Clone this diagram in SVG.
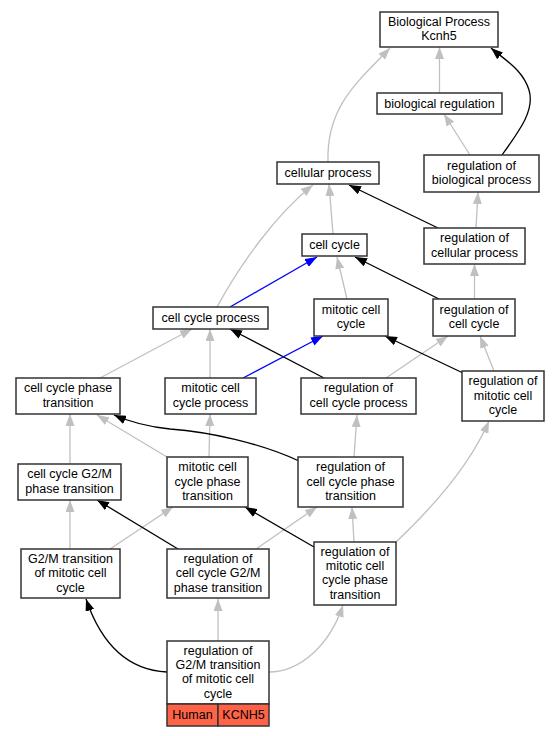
<svg xmlns="http://www.w3.org/2000/svg" width="560" height="736" viewBox="0 0 560 736">
<style>
.n rect{fill:#fff;stroke:#333;stroke-width:1.5}
text{font-family:"Liberation Sans",Arial,sans-serif;font-size:12.5px;fill:#000;text-anchor:middle}
.e path{fill:none;stroke-width:1.3}
.g{stroke:#c0c0c0;marker-end:url(#ag)}
.k{stroke:#000;marker-end:url(#ak)}
.b{stroke:#0000ff;marker-end:url(#ab)}
.n rect.red{fill:#ff6347}
</style>
<defs>
<marker id="ag" viewBox="0 0 12 9" refX="12" refY="4.5" markerWidth="12" markerHeight="9" markerUnits="userSpaceOnUse" orient="auto"><path d="M0,0 L12,4.5 L0,9 z" fill="#c0c0c0"/></marker>
<marker id="ak" viewBox="0 0 12 9" refX="12" refY="4.5" markerWidth="12" markerHeight="9" markerUnits="userSpaceOnUse" orient="auto"><path d="M0,0 L12,4.5 L0,9 z" fill="#000"/></marker>
<marker id="ab" viewBox="0 0 12 9" refX="12" refY="4.5" markerWidth="12" markerHeight="9" markerUnits="userSpaceOnUse" orient="auto"><path d="M0,0 L12,4.5 L0,9 z" fill="#0000ff"/></marker>
</defs>
<rect width="560" height="736" fill="#fff"/>
<g id="edges" class="e">
<path class="g" d="M439.5,93 L439.5,47"/>
<path class="g" d="M328,162 C326,105 360,80 390,48"/>
<path class="g" d="M470,155 L444,114"/>
<path class="g" d="M476,228 L478,192"/>
<path class="g" d="M333,234 L329,184"/>
<path class="g" d="M217,307 C240,265 275,215 313,185"/>
<path class="g" d="M347,299 L337,257"/>
<path class="g" d="M474.5,299 L474.5,264"/>
<path class="g" d="M100,378 L192,329"/>
<path class="g" d="M210,378 L210,329"/>
<path class="g" d="M386,378 L448,336"/>
<path class="g" d="M494,371 L480,336"/>
<path class="g" d="M354,457 L357,415"/>
<path class="g" d="M70,464 L70,414"/>
<path class="g" d="M167,457 L97,415"/>
<path class="g" d="M209,457 L210,414"/>
<path class="g" d="M70,549 L70,500"/>
<path class="g" d="M110,549 L173,507"/>
<path class="g" d="M256,549 L317,507"/>
<path class="g" d="M354,542 L352,507"/>
<path class="g" d="M395,543 C430,510 470,465 489,421"/>
<path class="g" d="M218,641 L218,599"/>
<path class="g" d="M269,672 C300,672 330,645 343,605"/>
<path class="k" d="M502,155 C520,130 535,110 529,90 C523,70 505,60 491,48"/>
<path class="k" d="M438,228 L349,185"/>
<path class="k" d="M439,299 L355,257"/>
<path class="k" d="M324,378 L230,329"/>
<path class="k" d="M463,373 L385,336"/>
<path class="k" d="M299,461 C260,443 210,432 170,429 C150,427 130,422 114,415"/>
<path class="k" d="M178,549 L97,500"/>
<path class="k" d="M314,547 L245,507"/>
<path class="k" d="M167,672 C125,670 100,640 86,599"/>
<path class="b" d="M230,307 L317,257"/>
<path class="b" d="M243,378 L323,336"/>
</g>
<g id="n1" class="n"><rect x="380" y="12" width="118" height="35"/><text x="439" y="25.9">Biological Process<tspan x="439" dy="14.4">Kcnh5</tspan></text></g>
<g id="n2" class="n"><rect x="377" y="93" width="125" height="21"/><text x="439.5" y="107.5">biological regulation</text></g>
<g id="n3" class="n"><rect x="277" y="162" width="102" height="22"/><text x="328" y="177">cellular process</text></g>
<g id="n4" class="n"><rect x="424" y="155" width="115" height="37"/><text x="481.5" y="169.9">regulation of<tspan x="481.5" dy="14.4">biological process</tspan></text></g>
<g id="n5" class="n"><rect x="302" y="234" width="65" height="22"/><text x="334.5" y="249">cell cycle</text></g>
<g id="n6" class="n"><rect x="424" y="228" width="101" height="36"/><text x="474.5" y="242.4">regulation of<tspan x="474.5" dy="14.4">cellular process</tspan></text></g>
<g id="n7" class="n"><rect x="153" y="307" width="115" height="22"/><text x="210.5" y="322">cell cycle process</text></g>
<g id="n8" class="n"><rect x="314" y="299" width="74" height="37"/><text x="351" y="313.9">mitotic cell<tspan x="351" dy="14.4">cycle</tspan></text></g>
<g id="n9" class="n"><rect x="433" y="299" width="82" height="37"/><text x="474" y="313.9">regulation of<tspan x="474" dy="14.4">cell cycle</tspan></text></g>
<g id="n10" class="n"><rect x="16" y="378" width="104" height="36"/><text x="68" y="392.4">cell cycle phase<tspan x="68" dy="14.4">transition</tspan></text></g>
<g id="n11" class="n"><rect x="165" y="378" width="91" height="36"/><text x="210.5" y="392.4">mitotic cell<tspan x="210.5" dy="14.4">cycle process</tspan></text></g>
<g id="n12" class="n"><rect x="301" y="378" width="115" height="36"/><text x="358.5" y="392.4">regulation of<tspan x="358.5" dy="14.4">cell cycle process</tspan></text></g>
<g id="n13" class="n"><rect x="462" y="371" width="82" height="50"/><text x="503" y="385.2">regulation of<tspan x="503" dy="14.4">mitotic cell</tspan><tspan x="503" dy="14.4">cycle</tspan></text></g>
<g id="n14" class="n"><rect x="18" y="464" width="103" height="36"/><text x="69.5" y="478.4">cell cycle G2/M<tspan x="69.5" dy="14.4">phase transition</tspan></text></g>
<g id="n15" class="n"><rect x="167" y="457" width="81" height="50"/><text x="207.5" y="471.2">mitotic cell<tspan x="207.5" dy="14.4">cycle phase</tspan><tspan x="207.5" dy="14.4">transition</tspan></text></g>
<g id="n16" class="n"><rect x="298" y="457" width="105" height="50"/><text x="350.5" y="471.2">regulation of<tspan x="350.5" dy="14.4">cell cycle phase</tspan><tspan x="350.5" dy="14.4">transition</tspan></text></g>
<g id="n17" class="n"><rect x="21" y="549" width="99" height="49"/><text x="70.5" y="562.7">G2/M transition<tspan x="70.5" dy="14.4">of mitotic cell</tspan><tspan x="70.5" dy="14.4">cycle</tspan></text></g>
<g id="n18" class="n"><rect x="167" y="549" width="102" height="49"/><text x="218" y="562.7">regulation of<tspan x="218" dy="14.4">cell cycle G2/M</tspan><tspan x="218" dy="14.4">phase transition</tspan></text></g>
<g id="n19" class="n"><rect x="314" y="542" width="82" height="63"/><text x="355" y="555.5">regulation of<tspan x="355" dy="14.4">mitotic cell</tspan><tspan x="355" dy="14.4">cycle phase</tspan><tspan x="355" dy="14.4">transition</tspan></text></g>
<g id="n20" class="n"><rect x="167" y="641" width="102" height="63"/><text x="218" y="654.5">regulation of<tspan x="218" dy="14.4">G2/M transition</tspan><tspan x="218" dy="14.4">of mitotic cell</tspan><tspan x="218" dy="14.4">cycle</tspan></text><rect class="red" x="167" y="704" width="51" height="22"/><rect class="red" x="218" y="704" width="51" height="22"/><text x="192.5" y="719">Human</text><text x="243.5" y="719">KCNH5</text></g>
</svg>
